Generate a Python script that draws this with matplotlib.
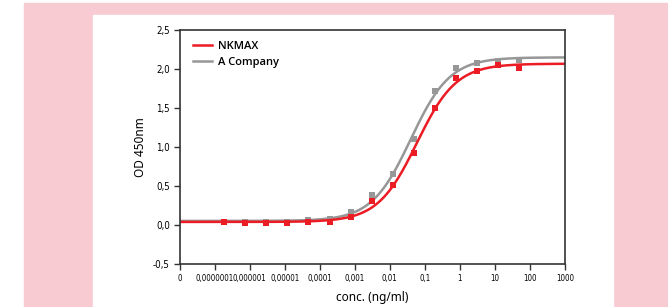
import numpy as np
import matplotlib
matplotlib.use('Agg')
import matplotlib.pyplot as plt
from matplotlib.patches import Rectangle
from matplotlib import font_manager as fm

# 4-fold serial dilution, top concentration 50 ng/ml
conc = 50 / 4.0 ** np.arange(14, -1, -1)
nkmax = [0.04, 0.03, 0.03, 0.03, 0.04, 0.04, 0.10, 0.31, 0.51, 0.92, 1.50, 1.88, 1.97, 2.05, 2.01]
a_company = [0.04, 0.04, 0.04, 0.04, 0.06, 0.08, 0.17, 0.38, 0.65, 1.10, 1.72, 2.01, 2.08, 2.10, 2.12]

x_ticks = [1e-8, 1e-7, 1e-6, 1e-5, 1e-4, 1e-3, 1e-2, 1e-1, 1, 10, 100, 1000]
x_labels = ['0', '0,0000001', '0,000001', '0,00001', '0,0001', '0,001',
            '0,01', '0,1', '1', '10', '100', '1000']
y_ticks = [-0.5, 0.0, 0.5, 1.0, 1.5, 2.0, 2.5]
y_labels = ['-0,5', '0,0', '0,5', '1,0', '1,5', '2,0', '2,5']

RED = '#ec1c24'
GRAY = '#979797'
PINK = '#f8cad2'


def narrow_font():
    # look for any installed condensed / narrow face, regular weight
    for f in fm.fontManager.ttflist:
        tag = (f.name + ' ' + f.fname).lower()
        if ('narrow' in tag or 'condensed' in tag or f.stretch in ('condensed', 'semi-condensed')) \
                and f.style == 'normal' and f.weight in (400, 'normal', 'regular') \
                and 'mono' not in tag and 'serif' not in f.name.lower():
            return fm.FontProperties(fname=f.fname), True
    return fm.FontProperties(family='Liberation Sans'), False


def logistic(lx, c, h):
    return 1 / (1 + 10 ** (h * (c - lx)))


def fit4pl(x, y):
    # crude 4PL fit: grid over EC50 / hill, bottom & top by least squares
    lx = np.log10(x)
    y = np.asarray(y)
    best = None
    for c in np.linspace(-3, 0, 121):
        for h in np.linspace(0.5, 2, 61):
            s = logistic(lx, c, h)
            A = np.column_stack([1 - s, s])
            coef = np.linalg.lstsq(A, y, rcond=None)[0]
            err = np.sum((A @ coef - y) ** 2)
            if best is None or err < best[0]:
                best = (err, coef[0], coef[1], c, h)
    return best[1:]


tick_fp, is_narrow = narrow_font()

fig = plt.figure(figsize=(6.68, 3.07), dpi=100)
fig.patches.append(Rectangle((24 / 668, 0), 644 / 668, 304 / 307,
                             transform=fig.transFigure, color=PINK, zorder=-2))
fig.patches.append(Rectangle((93 / 668, 0), 520 / 668, 292 / 307,
                             transform=fig.transFigure, color='white', zorder=-1))

ax = fig.add_axes([179.5 / 668, 1 - 264 / 307, 385.5 / 668, 234 / 307])
ax.set_facecolor('none')

xs = np.logspace(-8, 3, 400)
for vals, col, name in [(a_company, GRAY, 'A Company'), (nkmax, RED, 'NKMAX')]:
    b, t, c, h = fit4pl(conc, vals)
    ax.plot(xs, b + (t - b) * logistic(np.log10(xs), c, h), color=col, lw=1.8, label=name)
    ax.plot(conc, vals, 's', color=col, ms=5, mew=0)

ax.set_xscale('log')
ax.set_xlim(1e-8, 1e3)
ax.set_ylim(-0.5, 2.5)
ax.set_xticks(x_ticks)
ax.set_xticklabels(x_labels, fontproperties=tick_fp)
ax.minorticks_off()
ax.set_yticks(y_ticks)
ax.set_yticklabels(y_labels, fontproperties=tick_fp)
for lab in ax.get_xticklabels():
    lab.set_fontsize(5.7 if is_narrow else 4.6)
for lab in ax.get_yticklabels():
    lab.set_fontsize(7.0 if is_narrow else 6.3)
ax.tick_params(direction='out', length=4, width=1, color='#333333', pad=3)
for s in ax.spines.values():
    s.set_color('#333333')
    s.set_linewidth(1.2)

ax.set_xlabel('conc. (ng/ml)', family='Noto Sans', fontsize=8.5, labelpad=6)
ax.set_ylabel('OD 450nm', family='Noto Sans', fontsize=8.5, labelpad=4)

handles, labels = ax.get_legend_handles_labels()
ax.legend(handles[::-1], labels[::-1], loc='upper left', frameon=False,
          bbox_to_anchor=(0.013, 0.992),
          handlelength=1.7, handletextpad=0.5, borderaxespad=0.4, labelspacing=0.5,
          prop={'family': ['Open Sans', 'Noto Sans'], 'size': 8, 'weight': 'semibold'})

fig.savefig('out.png', dpi=100)
